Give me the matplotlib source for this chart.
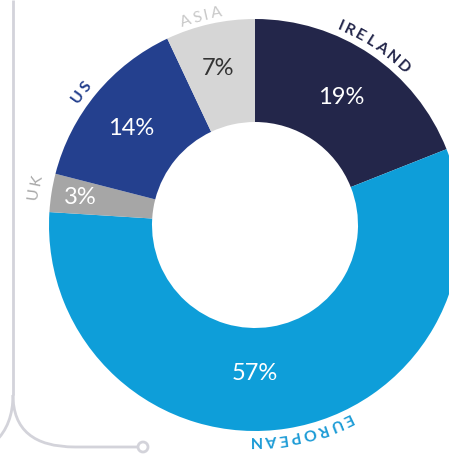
import numpy as np
import matplotlib
matplotlib.use("Agg")
import matplotlib.pyplot as plt
from matplotlib.path import Path
from matplotlib.patches import PathPatch, Circle
from matplotlib.font_manager import FontProperties

# data (clockwise from 12 o'clock)
regions = ["IRELAND", "EUROPEAN", "UK", "US", "ASIA"]
shares = [19, 57, 3, 14, 7]

colors = ["#23264a", "#0e9ed9", "#a6a6a6", "#24408e", "#d6d6d6"]
pct_colors = ["white", "white", "white", "white", "#333333"]
name_colors = ["#23264a", "#1b9bd6", "#a8a8a8", "#24408e", "#c9c9c9"]
name_weights = ["bold", "bold", "normal", "bold", "normal"]

# label layout tweaks (degrees added to the slice mid angle, radius in px)
pct_shift = [0, -9, 0, 1.5, 0.7]
pct_rad = [154, 148, 177, 157, 161]
name_shift = [0.6, 4, -0.5, 2.3, 2]
name_rad = [213, 211, 218, 214, 211]

W, H = 449, 454
cx, cy = 255, H - 225
R_out, R_in = 206, 103

fig = plt.figure(figsize=(W / 100, H / 100), dpi=100)
ax = fig.add_axes([0, 0, 1, 1])
renderer = fig.canvas.get_renderer()

ax.pie(shares, colors=colors, radius=R_out, center=(cx, cy), startangle=90,
       counterclock=False, wedgeprops=dict(width=R_out - R_in, linewidth=0))

ax.set_xlim(0, W)
ax.set_ylim(0, H)
ax.set_aspect("equal")
ax.axis("off")

# mid angle of each slice
cum = np.cumsum([0] + shares[:-1])
mids = 90 - 360 * (cum + np.array(shares) / 2) / sum(shares)

# percentages
for i, v in enumerate(shares):
    a = np.radians(mids[i] + pct_shift[i])
    ax.text(cx + pct_rad[i] * np.cos(a), cy + pct_rad[i] * np.sin(a), f"{v}%",
            ha="center", va="center", fontsize=17, color=pct_colors[i],
            family="Lato", fontweight="normal")


def bearing(ch, prop):
    # left bearing that Agg adds horizontally, whatever the rotation
    try:
        from matplotlib.backends.backend_agg import get_hinting_flag
        font = renderer._prepare_font(prop)
        font.set_text(ch, 0, flags=get_hinting_flag())
        return font.get_bitmap_offset()[0] / 64.0
    except Exception:
        return 0.0


def arc_text(s, mid_deg, r, color, weight, size=11.5, gap=2.5):
    prop = FontProperties(family="Lato", weight=weight, size=size)
    # ink width of each letter, plus an even gap between letters
    widths = [renderer.get_text_width_height_descent(ch, prop, ismath=False)[0]
              for ch in s]
    edges = np.concatenate([[0], np.cumsum(np.array(widths) + gap)])
    centers = edges[:-1] + np.array(widths) / 2
    total = edges[-1] - gap
    start = mid_deg + np.degrees(total / 2 / r)
    for ch, c in zip(s, centers):
        ang = start - np.degrees(c / r)
        a = np.radians(ang)
        rot = np.radians(ang - 90)
        xo = bearing(ch, prop)
        # move the bearing shift onto the letter's own direction
        x = cx + r * np.cos(a) + xo * (np.cos(rot) - 1)
        y = cy + r * np.sin(a) + xo * np.sin(rot)
        ax.text(x, y, ch, rotation=ang - 90,
                rotation_mode="anchor", ha="center", va="baseline",
                fontproperties=prop, color=color)


for i, name in enumerate(regions):
    arc_text(name, mids[i] + name_shift[i], name_rad[i], name_colors[i],
             name_weights[i])

# decorative connector lines
line_col = "#d3d3da"
ax.add_patch(PathPatch(Path([(13, H), (13, H - 395)], [Path.MOVETO, Path.LINETO]),
                       fill=False, ec=line_col, lw=2))
right = Path([(13, H - 395), (13, H - 447), (75, H - 447), (138, H - 447)],
             [Path.MOVETO, Path.CURVE3, Path.CURVE3, Path.LINETO])
ax.add_patch(PathPatch(right, fill=False, ec=line_col, lw=2))
left = Path([(13, H - 395), (13, H - 425), (-5, H - 442)],
            [Path.MOVETO, Path.CURVE3, Path.CURVE3])
ax.add_patch(PathPatch(left, fill=False, ec=line_col, lw=2))
ax.add_patch(Circle((143, H - 447), 5, fc="white", ec=line_col, lw=2))

fig.savefig("out.png", dpi=100)
